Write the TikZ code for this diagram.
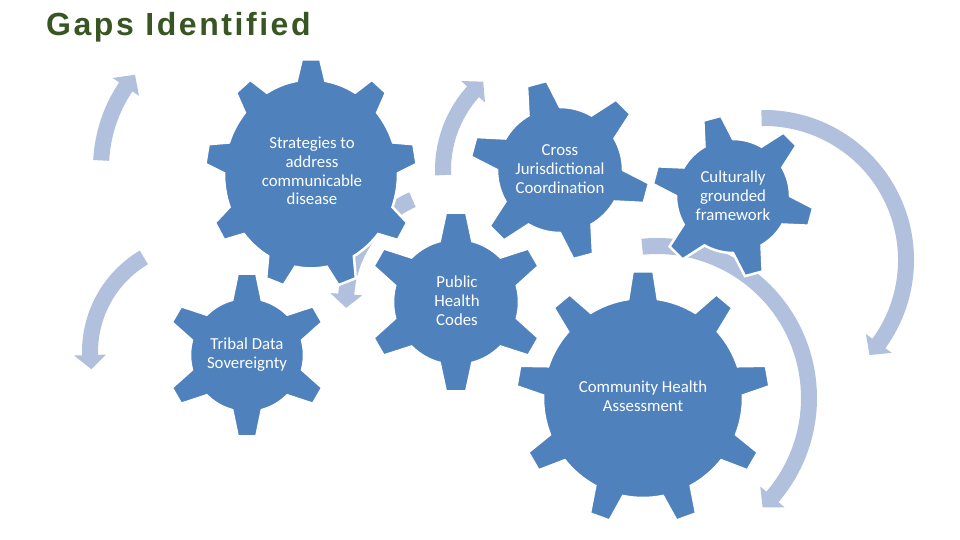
\documentclass[tikz,border=0pt]{standalone}
\usepackage{fontspec}
\usepackage{tikz}
\usetikzlibrary{positioning}

\newfontfamily\titlefont{Liberation Sans}[LetterSpace=8]
\newfontfamily\gearfont{Carlito}
\definecolor{gearblue}{HTML}{4F81BD}
\definecolor{arrowblue}{RGB}{176,192,221}
\definecolor{titlegreen}{RGB}{56,86,35}

% gear: centre, teeth, rotation, outer r, inner r, tip half angle, base half angle, yscale
\newcommand{\drawgear}[8]{%
  \begin{scope}[shift={(#1)},yscale=#8]
    \filldraw[gear] ({#3-#7}:#5)
      \foreach \k in {1,...,#2} {
        -- ({#3+(\k-1)*360/#2-#6}:#4) -- ({#3+(\k-1)*360/#2+#6}:#4)
        -- ({#3+(\k-1)*360/#2+#7}:#5)
        arc[start angle={#3+(\k-1)*360/#2+#7}, end angle={#3+\k*360/#2-#7}, radius=#5]
      } -- cycle;
  \end{scope}}

% curved arrow: centre, radius, tail angle, head angle, tip angle
\newcommand{\cycarrow}[5]{%
  \fill[cycle arrow,shift={(#1)}] ({#3}:{#2+8})
    arc[start angle=#3, end angle=#4, radius={#2+8}]
    -- ({#4}:{#2+16}) -- ({#5}:{#2}) -- ({#4}:{#2-16}) -- ({#4}:{#2-8})
    arc[start angle=#4, end angle=#3, radius={#2-8}] -- cycle;}

\begin{document}
\begin{tikzpicture}[x=1pt,y=-1pt,
        gear/.style={fill=gearblue, draw=white, line width=2.5pt},
        cycle arrow/.style={fill=arrowblue},
        every node/.style={font=\gearfont\fontsize{16.8}{18.8}\selectfont, text=white, align=center, inner sep=0pt}
    ]
    \useasboundingbox (0,0) rectangle (960,540);

    % Arrows
    \cycarrow{246,168}{145}{183}{214}{220}
    \cycarrow{560,170}{117}{177.5}{222}{229}
    \cycarrow{764,260}{142}{-91}{36}{42}
    \cycarrow{657,398}{152}{-95.6}{40.6}{46}
    \cycarrow{200,352}{110}{239.3}{178.4}{171}
    \cycarrow{458,302}{112}{246}{184}{177}

    % Gears
    \drawgear{311,174}{9}{-90}{106}{87}{5}{9.5}{1.085}
    \drawgear{560,170}{6}{15}{90}{63}{6.5}{15}{1}
    \drawgear{733,196}{6}{15}{81}{57}{6.5}{15}{1}
    \drawgear{456,302}{6}{-90}{90}{63}{6.5}{15}{1}
    \drawgear{247,355}{6}{-90}{82}{57}{6.5}{15}{1}
    \drawgear{643,398}{9}{-90}{127}{100}{4.7}{8.5}{1}

    % Nodes
    \node (strategies) at (312,171) {Strategies to\\address\\communicable\\disease};
    \node (crossjur) at (560,169) {Cross\\Jurisdictional\\Coordination};
    \node (cultural) at (733,196) {Culturally\\grounded\\framework};
    \node (phcodes) at (457,301) {Public\\Health\\Codes};
    \node (tribal) at (247,355) {Tribal Data\\Sovereignty};
    \node (cha) at (643,396) {Community Health\\Assessment};

    \node[font=\titlefont\bfseries\fontsize{32}{36}\selectfont, text=titlegreen, anchor=base west] (title) at (46,36) {Gaps Identified};

\end{tikzpicture}
\end{document}
